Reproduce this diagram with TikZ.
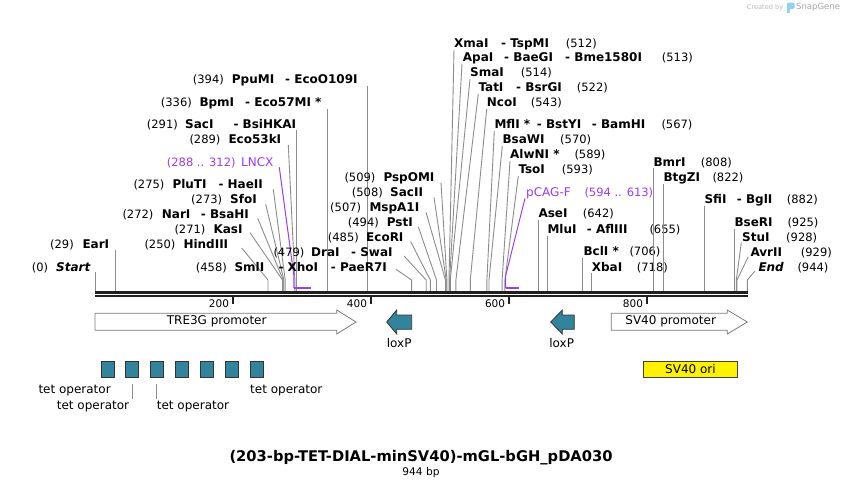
\documentclass[tikz,border=0pt]{standalone}
\usepackage{fontspec}
\setmainfont{DejaVu Sans}[BoldFont={DejaVu Sans Bold},ItalicFont={DejaVu Sans Oblique},BoldItalicFont={DejaVu Sans Bold Oblique}]
\newcommand\fs[1]{\fontsize{#1}{#1}\selectfont}
\definecolor{cutgray}{HTML}{8C8C8C}
\definecolor{featpurple}{HTML}{9B3BF5}
\definecolor{tealbox}{HTML}{31849B}
\definecolor{outlinegray}{HTML}{7A7A7A}
\definecolor{snapblue}{HTML}{8FD3F0}
\newcommand\tx[5]{\node[#1] (#2) at (#3,{#4+4.3}) {#5};}
\newcommand\cutS[4]{\coordinate (L#1) at (#2,#3);\coordinate (K#1) at (#4,280);\coordinate (B#1) at (#4,291);\draw[cut] (L#1) -- (K#1) -- (B#1);}
\newcommand\cutV[3]{\coordinate (L#1) at (#2,#3);\coordinate (B#1) at (#2,291);\draw[cut] (L#1) -- (B#1);}
\begin{document}
\begin{tikzpicture}[x=1pt,y=-1pt,
  enz/.style={font=\fs{12}\bfseries, inner sep=0pt, anchor=base west, text=black},
  enzi/.style={font=\fs{12}\bfseries\itshape, inner sep=0pt, anchor=base west, text=black},
  num/.style={font=\fs{11.5}, inner sep=0pt, anchor=base west, text=black},
  fname/.style={font=\fs{12}, inner sep=0pt, anchor=base west, text=featpurple},
  fnum/.style={font=\fs{11.5}, inner sep=0pt, anchor=base west, text=featpurple},
  cut/.style={draw=cutgray, line width=0.9pt},
  primer/.style={draw=featpurple, line width=1pt},
  primerbar/.style={draw=featpurple, line width=2.2pt},
  backbone/.style={draw=black!88, line width=2.3pt},
  tickmark/.style={draw=black!88, line width=2pt},
  ticklbl/.style={font=\fs{10.5}, inner sep=0pt, anchor=base east},
  featarrow/.style={draw=outlinegray, line width=0.8pt, fill=white},
  loxarrow/.style={draw=black!80, line width=0.8pt, fill=tealbox},
  featlbl/.style={font=\fs{12}, inner sep=0pt},
  tetbox/.style={draw=black!80, line width=0.8pt, fill=tealbox},
]
\useasboundingbox (0,0) rectangle (844,488);
\fill[white] (0,0) rectangle (844,488);

% ---------- left-side labels ----------
\tx{num}{n394}{192.7}{79.3}{(394)}
\tx{enz}{e394a}{231.7}{79.3}{PpuMI}
\tx{enz}{e394b}{285}{79.3}{- EcoO109I}
\cutV{394}{367.4}{86}

\tx{num}{n336}{160.7}{102.3}{(336)}
\tx{enz}{e336a}{199.3}{102.3}{BpmI}
\tx{enz}{e336b}{245}{102.3}{- Eco57MI *}
\cutV{336}{327.4}{109}

\tx{num}{n291}{146.7}{124}{(291)}
\tx{enz}{e291a}{185}{124}{SacI}
\tx{enz}{e291b}{233.3}{124}{- BsiHKAI}
\cutV{291}{296.3}{130}

\tx{num}{n289}{189.3}{139.3}{(289)}
\tx{enz}{e289}{228.3}{139.3}{Eco53kI}
\cutS{289}{288.3}{145}{294.9}

\tx{fnum}{nLNCX}{166.7}{161.7}{(288 .. 312)}
\tx{fname}{eLNCX}{241}{161.7}{LNCX}
\coordinate (pL1) at (279.3,167.3);
\coordinate (pL2) at (293.9,276);
\coordinate (pL3) at (293.9,288);
\coordinate (pL4) at (310.8,288);
\draw[primer] (pL1) -- (pL2) -- (pL3);
\draw[primerbar] (pL3) -- (pL4);

\tx{num}{n275}{133.3}{184}{(275)}
\tx{enz}{e275a}{172.3}{184}{PluTI}
\tx{enz}{e275b}{218.3}{184}{- HaeII}
\cutS{275}{273.3}{189.3}{285.2}

\tx{num}{n273}{191}{199}{(273)}
\tx{enz}{e273}{230}{199}{SfoI}
\cutS{273}{265.7}{204.3}{283.9}

\tx{num}{n272}{122.3}{214}{(272)}
\tx{enz}{e272a}{161.7}{214}{NarI}
\tx{enz}{e272b}{200.7}{214}{- BsaHI}
\cutS{272}{257.7}{218.3}{283.2}

\tx{num}{n271}{174.3}{229.3}{(271)}
\tx{enz}{e271}{213.3}{229.3}{KasI}
\cutS{271}{250}{232.7}{282.5}

\tx{num}{n29}{50}{244}{(29)}
\tx{enz}{e29}{82.3}{244}{EarI}
\cutV{29}{115.3}{250}

\tx{num}{n250}{144.3}{244}{(250)}
\tx{enz}{e250}{183.3}{244}{HindIII}
\cutS{250}{241.7}{248}{268}

\tx{num}{n0}{31.7}{266.7}{(0)}
\tx{enzi}{e0}{56}{266.7}{Start}
\cutV{0}{95.3}{272}

\tx{num}{n458}{195.7}{266.7}{(458)}
\tx{enz}{e458a}{234.3}{266.7}{SmlI}
\tx{enz}{e458b}{278.3}{266.7}{- XhoI}
\tx{enz}{e458c}{330.7}{266.7}{- PaeR7I}
\cutS{458}{396}{269.3}{411.6}

\tx{num}{n479}{273.3}{251.7}{(479)}
\tx{enz}{e479a}{311}{251.7}{DraI}
\tx{enz}{e479b}{351}{251.7}{- SwaI}
\cutS{479}{404}{256}{426.2}

\tx{num}{n485}{327.7}{236.7}{(485)}
\tx{enz}{e485}{366}{236.7}{EcoRI}
\cutS{485}{410.7}{241.7}{430.3}

\tx{num}{n494}{347.7}{221.7}{(494)}
\tx{enz}{e494}{386.7}{221.7}{PstI}
\cutS{494}{418.3}{226.7}{436.5}

\tx{num}{n507}{330}{206.7}{(507)}
\tx{enz}{e507}{369.3}{206.7}{MspA1I}
\cutS{507}{426}{212.3}{445.5}

\tx{num}{n508}{351.7}{191.7}{(508)}
\tx{enz}{e508}{390}{191.7}{SacII}
\cutS{508}{434}{197.3}{446.2}

\tx{num}{n509}{344.3}{176.7}{(509)}
\tx{enz}{e509}{383.3}{176.7}{PspOMI}
\cutS{509}{441}{182.7}{446.9}

% ---------- right-side labels ----------
\tx{enz}{e512a}{454}{42.7}{XmaI}
\tx{enz}{e512b}{501}{42.7}{- TspMI}
\tx{num}{n512}{565.7}{42.7}{(512)}
\cutS{512}{454}{50}{449.0}

\tx{enz}{e513a}{462.7}{56.7}{ApaI}
\tx{enz}{e513b}{504}{56.7}{- BaeGI}
\tx{enz}{e513c}{565}{56.7}{- Bme1580I}
\tx{num}{n513}{661.7}{56.7}{(513)}
\cutS{513}{462}{64}{449.6}

\tx{enz}{e514}{470}{72}{SmaI}
\tx{num}{n514}{520.7}{72}{(514)}
\cutS{514}{470}{79}{450.3}

\tx{enz}{e522a}{478.3}{86.7}{TatI}
\tx{enz}{e522b}{516}{86.7}{- BsrGI}
\tx{num}{n522}{576.7}{86.7}{(522)}
\cutS{522}{478.3}{94}{455.9}

\tx{enz}{e543}{486.7}{101.7}{NcoI}
\tx{num}{n543}{530.7}{101.7}{(543)}
\cutS{543}{486.7}{109}{470.3}

\tx{enz}{e567a}{494.3}{124}{MflI *}
\tx{enz}{e567b}{536.7}{124}{- BstYI}
\tx{enz}{e567c}{591.7}{124}{- BamHI}
\tx{num}{n567}{661.3}{124}{(567)}
\cutS{567}{494.3}{131}{486.9}

\tx{enz}{e570}{502.3}{139}{BsaWI}
\tx{num}{n570}{560}{139}{(570)}
\cutS{570}{502.3}{146}{489.0}

\tx{enz}{e589}{510}{154}{AlwNI *}
\tx{num}{n589}{574.3}{154}{(589)}
\cutS{589}{510}{161}{502.1}

\tx{enz}{e593}{518.3}{169}{TsoI}
\tx{num}{n593}{561.7}{169}{(593)}
\cutS{593}{518.3}{176}{504.9}

\tx{fname}{ePCAG}{526}{191.7}{pCAG-F}
\tx{fnum}{nPCAG}{584.3}{191.7}{(594 .. 613)}
\coordinate (pP1) at (525,198.3);
\coordinate (pP2) at (505.6,276);
\coordinate (pP3) at (505.6,288);
\coordinate (pP4) at (518.7,288);
\draw[primer] (pP1) -- (pP2) -- (pP3);
\draw[primerbar] (pP3) -- (pP4);

\tx{enz}{e642}{538.3}{213.3}{AseI}
\tx{num}{n642}{582.7}{213.3}{(642)}
\cutV{642}{538.7}{220}

\tx{enz}{e655a}{547.3}{229}{MluI}
\tx{enz}{e655b}{586.7}{229}{- AflIII}
\tx{num}{n655}{649.3}{229}{(655)}
\cutV{655}{547.7}{236}

\tx{enz}{e706}{583.3}{251}{BclI *}
\tx{num}{n706}{629.3}{251}{(706)}
\cutV{706}{582.9}{258}

\tx{enz}{e718}{591.7}{266.7}{XbaI}
\tx{num}{n718}{636.7}{266.7}{(718)}
\cutV{718}{591.2}{273}

\tx{enz}{e808}{653.3}{161.7}{BmrI}
\tx{num}{n808}{700.7}{161.7}{(808)}
\cutV{808}{653.4}{168}

\tx{enz}{e822}{663.3}{176.7}{BtgZI}
\tx{num}{n822}{712.3}{176.7}{(822)}
\cutV{822}{663.1}{184}

\tx{enz}{e882a}{704.3}{199.3}{SfiI}
\tx{enz}{e882b}{736.7}{199.3}{- BglI}
\tx{num}{n882}{786.7}{199.3}{(882)}
\cutV{882}{704.5}{206}

\tx{enz}{e925}{734.3}{221.7}{BseRI}
\tx{num}{n925}{787.3}{221.7}{(925)}
\cutV{925}{734.2}{229}

\tx{enz}{e928}{742}{236.7}{StuI}
\tx{num}{n928}{786}{236.7}{(928)}
\cutS{928}{741.3}{242.7}{736.3}

\tx{enz}{e929}{750.3}{251.7}{AvrII}
\tx{num}{n929}{800.7}{251.7}{(929)}
\cutS{929}{748.3}{256.7}{737}

\tx{enzi}{e944}{758.3}{266.7}{End}
\tx{num}{n944}{797.3}{266.7}{(944)}
\cutS{944}{755}{271}{747.3}

% ---------- backbone ----------
\coordinate (bbL1) at (95,292.5);
\coordinate (bbR1) at (748,292.5);
\coordinate (bbL2) at (95,295.8);
\coordinate (bbR2) at (748,295.8);
\draw[backbone] (bbL1) -- (bbR1);
\draw[backbone] (bbL2) -- (bbR2);

% ticks
\foreach \t/\xx in {200/232.7,400/370.7,600/508.8,800/646.7}{
  \coordinate (tk\t) at (\xx,297);
  \draw[tickmark] (tk\t) -- ++(0,6.7);
  \node[ticklbl] (tl\t) at (\xx-3.5,307.8) {\t};
}

% ---------- features ----------
\draw[featarrow] (95,313.3) -- (336.7,313.3) -- (336.7,310) -- (356,322) -- (336.7,334) -- (336.7,330.3) -- (95,330.3) -- cycle;
\node[featlbl] (tre) at (216.7,321.7) {TRE3G promoter};

\draw[featarrow] (611.3,313.3) -- (727.3,313.3) -- (727.3,310) -- (747.3,322) -- (727.3,334) -- (727.3,330.3) -- (611.3,330.3) -- cycle;
\node[featlbl] (sv40p) at (670.7,321.7) {SV40 promoter};

\draw[loxarrow] (411.7,315) -- (396.7,315) -- (396.7,310) -- (386.7,322) -- (396.7,334) -- (396.7,329.3) -- (411.7,329.3) -- cycle;
\node[featlbl] (lox1) at (399.2,343.3) {loxP};
\draw[loxarrow] (574.3,315) -- (562.3,315) -- (562.3,310) -- (550.7,322) -- (562.3,334) -- (562.3,329.3) -- (574.3,329.3) -- cycle;
\node[featlbl] (lox2) at (561.7,343.3) {loxP};

% SV40 ori
\node[draw=black!75, line width=0.8pt, fill=yellow, minimum width=94.4pt, minimum height=15.6pt, inner sep=0pt, font=\fs{12}] (ori) at (690.5,369.5) {SV40 ori};

% tet operators
\foreach \i/\xa in {1/101.7,2/125.7,3/150.3,4/175.7,5/200.3,6/225.3,7/250.3}{
  \draw[tetbox] (\xa,361.7) rectangle ++(13,15.6);
}
\node[featlbl, anchor=west] (tet1) at (38.3,390.7) {tet operator};
\node[featlbl, anchor=west] (tet2) at (56.7,406.7) {tet operator};
\node[featlbl, anchor=west] (tet3) at (156.7,406.7) {tet operator};
\node[featlbl, anchor=west] (tet7) at (250,390.7) {tet operator};
\coordinate (tc2a) at (132.5,384);
\coordinate (tc2b) at (132.5,399.3);
\coordinate (tc3a) at (156.8,384);
\coordinate (tc3b) at (156.8,399.3);
\draw[cut] (tc2a) -- (tc2b);
\draw[cut] (tc3a) -- (tc3b);

% ---------- title ----------
\node[font=\fs{14.7}\bfseries, inner sep=0pt] (title) at (421,457.3) {(203-bp-TET-DIAL-minSV40)-mGL-bGH\_pDA030};
\node[font=\fs{10.6}, inner sep=0pt] (len) at (421,472.5) {944 bp};

% ---------- watermark ----------
\node[font=\fs{6.6}, text=black!28, anchor=west, inner sep=0pt] (cby) at (746.7,7.3) {Created by};
\fill[snapblue] (787,2.5) rectangle (790,13);
\fill[snapblue, rounded corners=1.5pt] (787,2.5) rectangle (794.5,9);
\node[font=\fs{8.5}, text=black!35, anchor=west, inner sep=0pt] (sg) at (796,7.3) {SnapGene};
\end{tikzpicture}
\end{document}
